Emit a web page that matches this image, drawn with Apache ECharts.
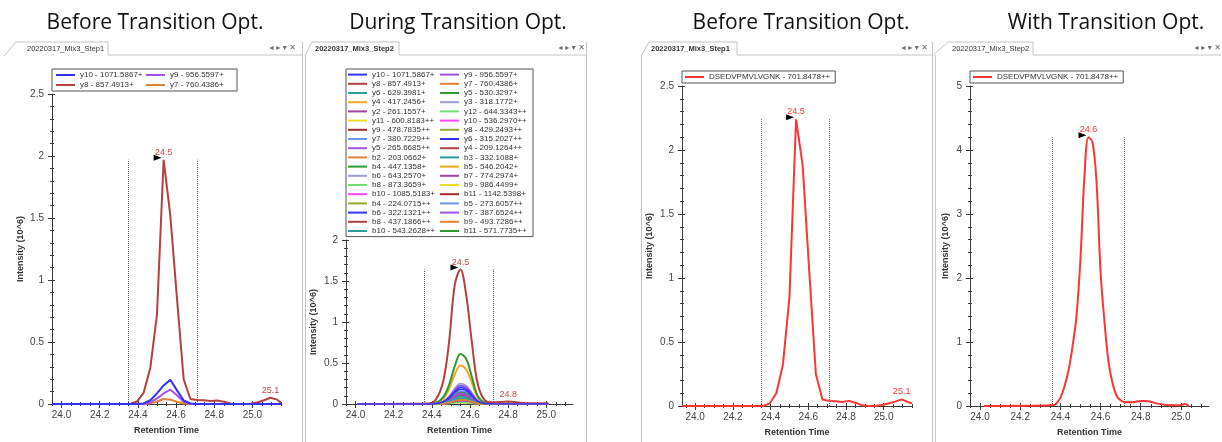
<!DOCTYPE html>
<html><head><meta charset="utf-8">
<script src="https://cdn.jsdelivr.net/npm/echarts@6/dist/echarts.min.js"></script>
<style>html,body{margin:0;padding:0;background:#fff}#c{width:1222px;height:442px}</style>
</head><body><div id="c"></div>
<script>
// ---------------- DATA ----------------
const panelTitles = ['Before Transition Opt.', 'During Transition Opt.', 'Before Transition Opt.', 'With Transition Opt.'];
const tabNames = ['20220317_Mix3_Step1', '20220317_Mix3_Step2', '20220317_Mix3_Step1', '20220317_Mix3_Step2'];
const xMajorTicks = [24.0, 24.2, 24.4, 24.6, 24.8, 25.0];
const xMinorTicks = [23.95, 24.0, 24.05, 24.1, 24.15, 24.2, 24.25, 24.3, 24.35, 24.4, 24.45, 24.5, 24.55, 24.6, 24.65, 24.7, 24.75, 24.8, 24.85, 24.9, 24.95, 25.0, 25.05, 25.1, 25.15];

// Panel 1 (Step1, 4 transitions)
const p1Names = ['y10 - 1071.5867+', 'y9 - 956.5597+', 'y8 - 857.4913+', 'y7 - 760.4386+'];
const p1Time = [23.95, 24.36, 24.395, 24.43, 24.465, 24.50, 24.535, 24.57, 24.605, 24.64, 24.675, 24.71, 24.745, 24.78, 24.815, 24.85, 24.885, 24.92, 24.955, 24.99, 25.025, 25.06, 25.095, 25.13, 25.15];
const p1_y10 = [0, 0, 0, 0.005, 0.03, 0.085, 0.15, 0.195, 0.11, 0.03, 0.004, 0, 0, 0, 0, 0, 0, 0, 0, 0, 0, 0, 0, 0, 0];
const p1_y9  = [0, 0, 0, 0, 0.012, 0.045, 0.085, 0.115, 0.07, 0.018, 0.002, 0, 0, 0, 0, 0, 0, 0, 0, 0, 0, 0, 0, 0, 0];
const p1_y8  = [0, 0, 0.02, 0.09, 0.29, 0.72, 1.97, 1.52, 0.85, 0.2, 0.04, 0.032, 0.03, 0.025, 0.028, 0.018, 0.005, 0, 0, 0.003, 0.012, 0.03, 0.05, 0.035, 0.01];
const p1_y7  = [0, 0, 0, 0, 0.005, 0.02, 0.04, 0.035, 0.018, 0.004, 0, 0, 0, 0, 0, 0, 0, 0, 0, 0, 0, 0, 0, 0, 0];
const p1Bounds = [24.35, 24.71];
const p1PeakLabels = ['24.5', '25.1'];

// Panel 2 (Step2, 36 transitions)
const p2Names = ['y10 - 1071.5867+', 'y9 - 956.5597+', 'y8 - 857.4913+', 'y7 - 760.4386+', 'y6 - 629.3981+', 'y5 - 530.3297+',
  'y4 - 417.2456+', 'y3 - 318.1772+', 'y2 - 261.1557+', 'y12 - 644.3343++', 'y11 - 600.8183++', 'y10 - 536.2970++',
  'y9 - 478.7835++', 'y8 - 429.2493++', 'y7 - 380.7229++', 'y6 - 315.2027++', 'y5 - 265.6685++', 'y4 - 209.1264++',
  'b2 - 203.0662+', 'b3 - 332.1088+', 'b4 - 447.1358+', 'b5 - 546.2042+', 'b6 - 643.2570+', 'b7 - 774.2974+',
  'b8 - 873.3659+', 'b9 - 986.4499+', 'b10 - 1085.5183+', 'b11 - 1142.5398+', 'b4 - 224.0715++', 'b5 - 273.6057++',
  'b6 - 322.1321++', 'b7 - 387.6524++', 'b8 - 437.1866++', 'b9 - 493.7286++', 'b10 - 543.2628++', 'b11 - 571.7735++'];
const p2Time = [24.01, 24.38, 24.42, 24.46, 24.49, 24.52, 24.55, 24.58, 24.61, 24.64, 24.68, 24.72, 24.80, 24.88, 25.01];
const p2Values = [
  [0,0,0.004,0.028,0.076,0.152,0.2,0.18,0.11,0.034,0.005,0.002,0.001,0,0],
  [0,0,0.005,0.032,0.087,0.175,0.23,0.207,0.127,0.039,0.006,0.002,0.001,0,0],
  [0,0.005,0.05,0.28,0.75,1.45,1.64,1.33,0.75,0.25,0.04,0.02,0.03,0.012,0.008],
  [0,0,0.001,0.007,0.019,0.038,0.05,0.045,0.028,0.009,0.001,0,0,0,0],
  [0,0,0.001,0.01,0.027,0.053,0.07,0.063,0.039,0.012,0.002,0.001,0,0,0],
  [0,0,0.012,0.085,0.23,0.46,0.61,0.55,0.33,0.1,0.015,0.005,0.003,0,0],
  [0,0,0.009,0.066,0.18,0.36,0.47,0.42,0.26,0.08,0.012,0.004,0.002,0,0],
  [0,0,0.005,0.035,0.095,0.19,0.25,0.225,0.138,0.043,0.006,0.002,0.001,0,0],
  [0,0,0.001,0.006,0.015,0.03,0.04,0.036,0.022,0.007,0.001,0,0,0,0],
  [0,0,0,0.003,0.008,0.015,0.02,0.018,0.011,0.003,0,0,0,0,0],
  [0,0,0,0.002,0.006,0.011,0.015,0.014,0.008,0.003,0,0,0,0,0],
  [0,0,0.001,0.004,0.011,0.023,0.03,0.027,0.017,0.005,0.001,0,0,0,0],
  [0,0,0.001,0.005,0.013,0.027,0.035,0.032,0.019,0.006,0.001,0,0,0,0],
  [0,0,0.001,0.006,0.017,0.034,0.045,0.041,0.025,0.008,0.001,0,0,0,0],
  [0,0,0.004,0.029,0.08,0.16,0.21,0.189,0.116,0.036,0.005,0.002,0.001,0,0],
  [0,0,0.004,0.025,0.068,0.137,0.18,0.162,0.099,0.031,0.005,0.001,0.001,0,0],
  [0,0,0.003,0.018,0.049,0.099,0.13,0.117,0.072,0.022,0.003,0.001,0.001,0,0],
  [0,0,0.001,0.004,0.01,0.019,0.025,0.023,0.014,0.004,0.001,0,0,0,0],
  [0,0,0.001,0.004,0.011,0.023,0.03,0.027,0.017,0.005,0.001,0,0,0,0],
  [0,0,0.002,0.013,0.034,0.068,0.09,0.081,0.05,0.015,0.002,0.001,0,0,0],
  [0,0,0.003,0.02,0.053,0.106,0.14,0.126,0.077,0.024,0.004,0.001,0.001,0,0],
  [0,0,0.001,0.008,0.023,0.046,0.06,0.054,0.033,0.01,0.002,0,0,0,0],
  [0,0,0.004,0.031,0.084,0.167,0.22,0.198,0.121,0.037,0.006,0.002,0.001,0,0],
  [0,0,0.002,0.015,0.042,0.084,0.11,0.099,0.061,0.019,0.003,0.001,0.001,0,0],
  [0,0,0.002,0.011,0.029,0.057,0.075,0.068,0.041,0.013,0.002,0.001,0,0,0],
  [0,0,0.001,0.006,0.015,0.03,0.04,0.036,0.022,0.007,0.001,0,0,0,0],
  [0,0,0.002,0.014,0.038,0.076,0.1,0.09,0.055,0.017,0.003,0.001,0,0,0],
  [0,0,0,0.003,0.008,0.015,0.02,0.018,0.011,0.003,0,0,0,0,0],
  [0,0,0.001,0.005,0.012,0.024,0.031,0.026,0.016,0.005,0.001,0,0,0,0],
  [0,0,0.003,0.022,0.061,0.122,0.16,0.144,0.088,0.027,0.004,0.001,0.001,0,0],
  [0,0,0.003,0.021,0.057,0.114,0.15,0.135,0.083,0.026,0.004,0.001,0.001,0,0],
  [0,0,0.002,0.017,0.046,0.091,0.12,0.108,0.066,0.02,0.003,0.001,0.001,0,0],
  [0,0,0.001,0.008,0.021,0.042,0.055,0.05,0.03,0.009,0.001,0,0,0,0],
  [0,0,0.001,0.005,0.013,0.027,0.035,0.032,0.019,0.006,0.001,0,0,0,0],
  [0,0,0.001,0.006,0.017,0.034,0.045,0.041,0.025,0.008,0.001,0,0,0,0],
  [0,0,0.002,0.012,0.032,0.065,0.085,0.077,0.047,0.014,0.002,0.001,0,0,0]
];
const p2Bounds = [24.36, 24.72];
const p2PeakLabels = ['24.5', '24.8'];

// Panel 3 (Step1 precursor)
const precursorName = 'DSEDVPMVLVGNK - 701.8478++';
const p3Time = [23.93, 24.36, 24.395, 24.43, 24.465, 24.50, 24.535, 24.57, 24.605, 24.64, 24.675, 24.71, 24.745, 24.78, 24.815, 24.85, 24.885, 24.92, 24.955, 24.99, 25.025, 25.06, 25.095, 25.13, 25.15];
const p3Values = [0, 0, 0.02, 0.1, 0.32, 0.85, 2.24, 1.88, 1.05, 0.25, 0.05, 0.04, 0.038, 0.032, 0.04, 0.026, 0.005, 0, 0, 0.008, 0.02, 0.034, 0.052, 0.03, 0.022];
const p3Bounds = [24.35, 24.71];
const p3PeakLabels = ['24.5', '25.1'];

// Panel 4 (Step2 precursor)
const p4Time = [24.02, 24.36, 24.38, 24.40, 24.42, 24.44, 24.46, 24.48, 24.50, 24.52, 24.54, 24.56, 24.58, 24.60, 24.62, 24.64, 24.66, 24.68, 24.70, 24.72, 24.76, 24.80, 24.84, 24.88, 24.93, 24.99, 25.02, 25.04];
const p4Values = [0, 0.01, 0.04, 0.13, 0.3, 0.55, 0.92, 1.4, 2.3, 3.6, 4.2, 4.12, 3.5, 2.1, 1.3, 0.68, 0.35, 0.16, 0.09, 0.06, 0.06, 0.08, 0.075, 0.04, 0.015, 0.012, 0.03, 0];
const p4Bounds = [24.36, 24.72];
const p4PeakLabels = ['24.6'];

// ---------------- STYLE ----------------
const SANS = '"Liberation Sans", Arial, sans-serif';
const AX = '#3a3a3a';
const palette = ['#3434ee', '#a052ea', '#b5403f', '#e3823a', '#2a9e9e', '#2e9a2e', '#f5a822', '#9c9cd6',
  '#a4449a', '#72e072', '#f0dc2a', '#ff44ff', '#a22c2c', '#92a83a', '#6a96f0'];
const RED = '#ff3434';

const grids = [
  {left: 52, top: 94, width: 229, height: 310},
  {left: 346, top: 240, width: 227, height: 164},
  {left: 682, top: 86, width: 230, height: 321},
  {left: 970, top: 86, width: 239, height: 321}
];
const xRanges = [[23.95, 25.15], [23.95, 25.14], [23.93, 25.15], [23.95, 25.14]];
const yRanges = [[2.5, 0.5], [2, 0.5], [2.5, 0.5], [5, 1]];
const yNameGaps = [27, 28, 28, 20];

function makeXAxes(g) {
  const [min, max] = xRanges[g];
  const minor = xMinorTicks.filter(v => v >= min - 1e-9 && v <= max + 1e-9);
  const base = {gridIndex: g, type: 'value', min, max, position: 'bottom', splitLine: {show: false}};
  const tl = {color: AX, width: 1};
  return [
    Object.assign({}, base, {
      axisLine: {show: true, onZero: false, lineStyle: tl},
      axisTick: {show: true, customValues: xMajorTicks, length: 4, lineStyle: tl},
      axisLabel: {customValues: xMajorTicks, formatter: v => v.toFixed(1), fontSize: 10, color: '#444', margin: 6, fontFamily: SANS},
      name: 'Retention Time', nameLocation: 'middle', nameGap: 22,
      nameTextStyle: {fontWeight: 'bold', fontSize: 9, color: '#333', fontFamily: SANS}
    }),
    Object.assign({}, base, {axisLine: {show: false}, axisLabel: {show: false},
      axisTick: {show: true, inside: true, customValues: xMajorTicks, length: 3, lineStyle: tl}}),
    Object.assign({}, base, {axisLine: {show: false}, axisLabel: {show: false},
      axisTick: {show: true, customValues: minor, length: 2, lineStyle: tl}}),
    Object.assign({}, base, {axisLine: {show: false}, axisLabel: {show: false},
      axisTick: {show: true, inside: true, customValues: minor, length: 2, lineStyle: tl}})
  ];
}
function makeYAxes(g) {
  const [max, interval] = yRanges[g];
  const base = {gridIndex: g, type: 'value', min: 0, max, interval, position: 'left', splitLine: {show: false}};
  const tl = {color: AX, width: 1};
  return [
    Object.assign({}, base, {
      axisLine: {show: true, onZero: false, lineStyle: tl},
      axisTick: {show: true, length: 4, lineStyle: tl},
      minorTick: {show: true, splitNumber: 5, length: 2, lineStyle: tl},
      axisLabel: {fontSize: 10, color: '#444', margin: 8, fontFamily: SANS},
      name: 'Intensity (10^6)', nameLocation: 'middle', nameGap: yNameGaps[g],
      nameTextStyle: {fontWeight: 'bold', fontSize: 9, color: '#333', fontFamily: SANS}
    }),
    Object.assign({}, base, {axisLine: {show: false}, axisLabel: {show: false},
      axisTick: {show: true, inside: true, length: 3, lineStyle: tl},
      minorTick: {show: true, splitNumber: 5, length: 2, lineStyle: tl}})
  ];
}

function lineSeries(g, name, color, time, vals, z, width, smooth) {
  return {
    type: 'line', name, xAxisIndex: g * 4, yAxisIndex: g * 2,
    data: time.map((t, i) => [t, vals[i]]),
    symbol: 'none', showSymbol: false, smooth: smooth || false,
    lineStyle: {color, width}, itemStyle: {color}, z, animation: false, silent: true
  };
}
function boundsLines(bounds, peak) {
  return {
    symbol: ['none', 'none'], silent: true, label: {show: false}, animation: false,
    lineStyle: {type: 'dotted', color: '#555', width: 1},
    data: bounds.map(b => [{coord: [b, 0]}, {coord: [b, peak]}])
  };
}
function peakMarks(peakCoord, peakText, labelColor, extra) {
  const d = [
    {coord: peakCoord, symbol: 'triangle', symbolSize: [6, 8], symbolRotate: -90, symbolOffset: [-6, -2],
      itemStyle: {color: '#000'}, label: {show: false}},
    {coord: peakCoord, symbol: 'circle', symbolSize: 0,
      label: {show: true, position: 'top', distance: 3, formatter: peakText, color: labelColor, fontSize: 9, fontFamily: SANS}}
  ];
  if (extra) d.push({coord: extra[0], symbol: 'circle', symbolSize: 0,
      label: {show: true, position: 'top', distance: 3, formatter: extra[1], color: labelColor, fontSize: 9, fontFamily: SANS}});
  return {silent: true, animation: false, data: d};
}

const series = [];
// Panel 1
const p1Data = [p1_y10, p1_y9, p1_y8, p1_y7];
p1Data.forEach((vals, i) => series.push(lineSeries(0, p1Names[i], palette[i], p1Time, vals, 50 - i, 2, false)));
series[2].markLine = boundsLines(p1Bounds, p1_y8[6]);
series[2].markPoint = peakMarks([p1Time[6], p1_y8[6]], p1PeakLabels[0], '#c24848', [[p1Time[22], p1_y8[22]], p1PeakLabels[1]]);
// Panel 2
const p2Start = series.length;
p2Values.forEach((vals, i) => series.push(lineSeries(1, p2Names[i], palette[i % 15], p2Time, vals, 90 - i, i === 2 || i === 5 || i === 6 ? 2 : 1.5, 0.35)));
series[p2Start + 2].markLine = boundsLines(p2Bounds, p2Values[2][6]);
series[p2Start + 2].markPoint = peakMarks([p2Time[6], p2Values[2][6]], p2PeakLabels[0], '#c24848', [[p2Time[12], p2Values[2][12]], p2PeakLabels[1]]);
// Panel 3
const s3 = lineSeries(2, precursorName, RED, p3Time, p3Values, 10, 2, false);
s3.markLine = boundsLines(p3Bounds, p3Values[6]);
s3.markPoint = peakMarks([p3Time[6], p3Values[6]], p3PeakLabels[0], RED, [[p3Time[22], p3Values[22]], p3PeakLabels[1]]);
series.push(s3);
// Panel 4
const s4 = lineSeries(3, precursorName, RED, p4Time, p4Values, 10, 2, 0.35);
s4.markLine = boundsLines(p4Bounds, p4Values[10]);
s4.markPoint = peakMarks([p4Time[10], p4Values[10]], p4PeakLabels[0], RED, null);
series.push(s4);

// Legends
const legendBase = {orient: 'vertical', selectedMode: false, icon: 'rect', itemWidth: 19, itemHeight: 2, itemGap: 0,
  backgroundColor: '#fff', borderColor: '#555', borderWidth: 1,
  textStyle: {fontSize: 8, fontFamily: SANS, color: '#333', lineHeight: 10}};
const colOrder = (names) => names.filter((n, i) => i % 2 === 0).concat(names.filter((n, i) => i % 2 === 1));
const legends = [
  Object.assign({}, legendBase, {left: 52, top: 69, height: 20, padding: [1, 1, 1, 4],
    textStyle: Object.assign({}, legendBase.textStyle, {width: 66, lineHeight: 10}), data: colOrder(p1Names)}),
  Object.assign({}, legendBase, {left: 346, top: 69, height: 18 * 9.2, padding: [1, 1, 1, 2],
    textStyle: Object.assign({}, legendBase.textStyle, {width: 68, lineHeight: 9.2}), data: colOrder(p2Names)}),
  Object.assign({}, legendBase, {left: 682, top: 71, padding: [1, 5, 1, 3], data: [precursorName]}),
  Object.assign({}, legendBase, {left: 970, top: 71, padding: [1, 5, 1, 3], data: [precursorName]})
];

// Decorations: titles, tab strips, window frames
const FR = '#c4c4c4';
const titleX = [155, 458, 801, 1106];
const tabs = [
  {pts: [[4, 56], [16, 42], [108, 42], [108, 55], [302, 55]], textX: 27, bold: false, iconX: 296, right: 302, left: null},
  {pts: [[305, 56], [312, 42], [399, 42], [399, 55], [586, 55]], textX: 315, bold: true, iconX: 585, right: 586, left: 305},
  {pts: [[641, 56], [649, 42], [737, 42], [737, 55], [932, 55]], textX: 651, bold: true, iconX: 928, right: 932, left: 641},
  {pts: [[932, 56], [948, 42], [1033, 42], [1033, 55], [1222, 55]], textX: 952, bold: false, iconX: 1221, right: null, left: 935}
];
const graphics = [];
panelTitles.forEach((t, i) => graphics.push({type: 'text', x: titleX[i], y: 23, silent: true,
  style: {text: t, font: '21px "Open Sans", sans-serif', fill: '#111', textAlign: 'center', textVerticalAlign: 'middle'}}));
tabs.forEach((tb, i) => {
  graphics.push({type: 'polyline', silent: true, shape: {points: tb.pts}, style: {stroke: FR, fill: null, lineWidth: 1}});
  graphics.push({type: 'text', x: tb.textX, y: 49, silent: true,
    style: {text: tabNames[i], font: (tb.bold ? 'bold ' : '') + '7.5px ' + SANS, fill: '#333', textAlign: 'left', textVerticalAlign: 'middle'}});
  graphics.push({type: 'text', x: tb.iconX, y: 48, silent: true,
    style: {text: '◂ ▸ ▾ ✕', font: '8px "DejaVu Sans"', fill: '#666', textAlign: 'right', textVerticalAlign: 'middle'}});
  if (tb.right !== null) graphics.push({type: 'line', silent: true, shape: {x1: tb.right + 0.5, y1: 42, x2: tb.right + 0.5, y2: 442}, style: {stroke: FR, lineWidth: 1}});
  if (tb.left !== null) graphics.push({type: 'line', silent: true, shape: {x1: tb.left + 0.5, y1: 55, x2: tb.left + 0.5, y2: 442}, style: {stroke: FR, lineWidth: 1}});
});

const chart = echarts.init(document.getElementById('c'), null, {renderer: 'canvas'});
chart.setOption({
  animation: false,
  backgroundColor: '#fff',
  grid: grids,
  xAxis: [0, 1, 2, 3].flatMap(makeXAxes),
  yAxis: [0, 1, 2, 3].flatMap(makeYAxes),
  legend: legends,
  series,
  graphic: {elements: graphics}
});
</script></body></html>
